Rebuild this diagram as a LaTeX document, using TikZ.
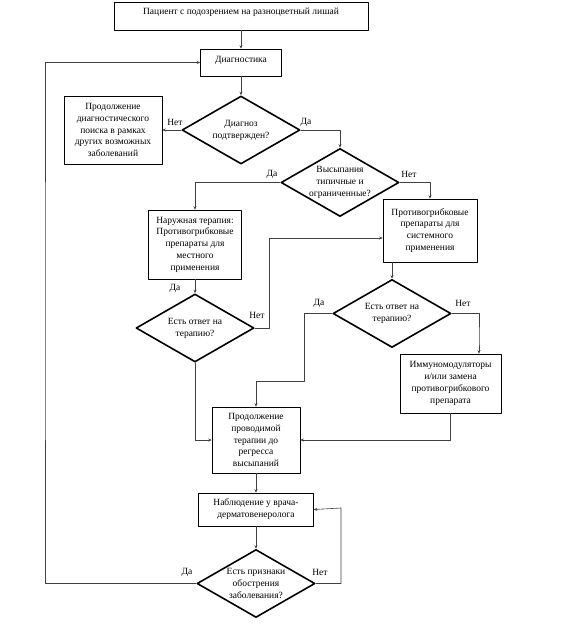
\documentclass[tikz,border=0pt]{standalone}
\usepackage{fontspec}
\setmainfont{Liberation Serif}
\usetikzlibrary{arrows.meta,shapes.geometric}

\begin{document}
\begin{tikzpicture}[x=1pt,y=-1pt,line cap=round,line join=round,
  font=\fontsize{9.5}{11.8}\selectfont,
  box/.style={draw=black,line width=.6pt,align=center,inner sep=1pt},
  decision/.style={diamond,draw=black,line width=1.6pt,align=center,inner sep=0pt,shape aspect=1.74,minimum width=118pt,minimum height=68pt},
  arr/.style={draw=black!75,line width=.6pt,-{Stealth[length=3.5pt,width=3pt]}},
  answer/.style={inner sep=1pt}]
\path[use as bounding box] (0,0) rectangle (563,627);
\node[box,minimum width=254pt,minimum height=28pt,text depth=9pt] (patient) at (241,16) {Пациент с подозрением на разноцветный лишай};
\node[box,minimum width=81pt,minimum height=27pt,text depth=6pt] (diag) at (241,62.5) {Диагностика};
\node[decision] (confirm) at (241,130) {Диагноз\\подтвержден?};
\node[box,minimum width=98pt,minimum height=68pt] (other) at (113,130) {Продолжение\\диагностического\\поиска в рамках\\других возможных\\заболеваний};
\node[decision] (typical) at (340,182.5) {Высыпания\\типичные и\\ограниченные?};
\node[box,minimum width=93pt,minimum height=69pt] (local) at (195,244.5) {Наружная терапия:\\Противогрибковые\\препараты для\\местного\\применения};
\node[box,minimum width=94pt,minimum height=63pt] (system) at (430,230.5) {Противогрибковые\\препараты для\\системного\\применения};
\node[decision] (resp1) at (195,328) {Есть ответ на\\терапию?};
\node[decision] (resp2) at (392,313.5) {Есть ответ на\\терапию?};
\node[box,minimum width=101pt,minimum height=59pt] (immuno) at (450.5,383.5) {Иммуномодуляторы\\и/или замена\\противогрибкового\\препарата};
\node[box,minimum width=88pt,minimum height=66pt] (continue) at (256,440) {Продолжение\\проводимой\\терапии до\\регресса\\высыпаний};
\node[box,minimum width=115pt,minimum height=33pt] (observe) at (256,509.5) {Наблюдение у врача-\\дерматовенеролога};
\node[decision] (relapse) at (256,583.5) {Есть признаки\\обострения\\заболевания?};
% bends of the elbow connectors
\coordinate (bendA) at (269,238);
\coordinate (bendB) at (304,381);
\coordinate (bendC) at (479,340);
\coordinate (bendD) at (341,508);
\coordinate (bendE) at (45,300);
\draw[arr] (patient) -- (diag);
\draw[arr] (diag) -- (confirm);
\draw[arr] (confirm) -- (other);
\draw[arr] (confirm.east) -| (typical.north);
\draw[arr] (typical.west) -| (local.north);
\draw[arr] (typical.east) -| (system.north);
\draw[arr] (local) -- (resp1);
\draw[arr] (resp1.east) -| (bendA) -- (bendA -| system.west);
\draw[arr] (system.south -| resp2.north) -- (resp2.north);
\draw[arr] (resp1.south) |- (continue.west);
\draw[arr] (resp2.west) -| (bendB) -| (continue.north);
\draw[arr] (resp2.east) -| (bendC) -- (bendC |- immuno.north);
\draw[arr] (immuno.south) |- (continue.east);
\draw[arr] (continue) -- (observe);
\draw[arr] (observe) -- (relapse);
\draw[arr] (relapse.east) -| (bendD) -- (observe.east);
\draw[arr] (relapse.west) -| (bendE) |- (diag.west);
% answers
\node[answer] (noA) at (175,122) {Нет};
\node[answer] (yesA) at (306,122) {Да};
\node[answer] (yesB) at (272,174) {Да};
\node[answer] (noB) at (409,174) {Нет};
\node[answer] (yesC) at (175,288) {Да};
\node[answer] (noC) at (257,315) {Нет};
\node[answer] (yesD) at (319,303) {Да};
\node[answer] (noD) at (463,303) {Нет};
\node[answer] (yesE) at (187,572) {Да};
\node[answer] (noE) at (320,572) {Нет};
\end{tikzpicture}
\end{document}
